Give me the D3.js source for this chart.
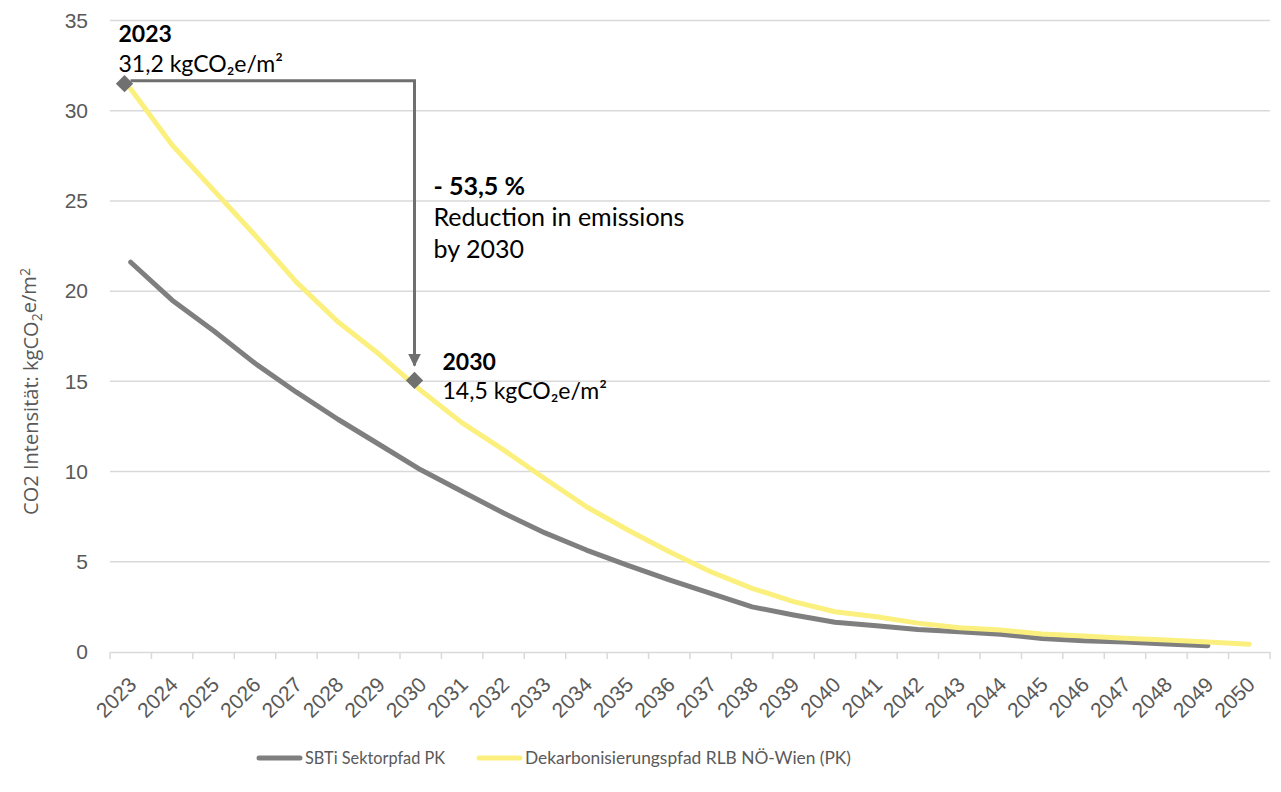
<!DOCTYPE html>
<html><head><meta charset="utf-8">
<script src="https://cdn.jsdelivr.net/npm/d3@7"></script>
<style>html,body{margin:0;padding:0;background:#fff;} svg{display:block}</style>
</head><body><svg id="chart" width="1281" height="792"></svg>
<script>
// ---------- data ----------
const years = ["2023","2024","2025","2026","2027","2028","2029","2030","2031","2032","2033","2034","2035","2036",
  "2037","2038","2039","2040","2041","2042","2043","2044","2045","2046","2047","2048","2049","2050"];
const sbtiValues = [21.6,19.5,17.8,16.0,14.4,12.9,11.5,10.1,8.9,7.7,6.6,5.65,4.8,4.0,
  3.25,2.5,2.05,1.65,1.45,1.25,1.12,0.98,0.75,0.62,0.55,0.45,0.35,null];
const rlbValues = [31.2,28.1,25.6,23.1,20.5,18.3,16.5,14.5,12.7,11.2,9.6,8.05,6.76,5.56,
  4.45,3.53,2.79,2.23,1.95,1.6,1.35,1.22,1.0,0.89,0.76,0.67,0.55,0.43];
const yTicks = [0,5,10,15,20,25,30,35];
const seriesNames = ["SBTi Sektorpfad PK","Dekarbonisierungspfad RLB NÖ-Wien (PK)"];
const markerYears = ["2023","2030"];
const markerValues = [31.5,15.05];
const markerTitles = ["2023","2030"];
const markerLabels = ["31,2 kgCO₂e/m²","14,5 kgCO₂e/m²"];
const reductionLines = ["- 53,5 %","Reduction in emissions","by 2030"];

// ---------- setup ----------
const svg = d3.select("#chart");
const W = 1281, H = 792;
const plot = {left:110, right:1270, top:20.5, bottom:652};
const colGray = "#7f7f7f", colYellow = "#fbf07e", colGrid = "#d9d9d9", colText = "#595959";
svg.append("rect").attr("width",W).attr("height",H).attr("fill","#fff");

const x = d3.scaleBand().domain(years).range([plot.left, plot.right]).padding(0);
const y = d3.scaleLinear().domain([0,35]).range([plot.bottom, plot.top]);
const bw = x.bandwidth();
const cx = d => x(d) + bw/2;

function fit(sel, target){
  const w = sel.node().getComputedTextLength();
  const fs = parseFloat(sel.attr("font-size"));
  sel.attr("font-size", (fs*target/w).toFixed(2));
  return sel;
}

// gridlines
svg.append("g").selectAll("line").data(yTicks.filter(t=>t>0)).join("line")
  .attr("x1",plot.left).attr("x2",plot.right)
  .attr("y1",d=>y(d)).attr("y2",d=>y(d))
  .attr("stroke",colGrid).attr("stroke-width",1.5);

// y axis labels
const yAxis = svg.append("g").attr("transform",`translate(${plot.left},0)`)
  .call(d3.axisLeft(y).tickValues(yTicks).tickSize(0).tickPadding(22));
yAxis.select(".domain").remove();
yAxis.selectAll("text").attr("font-family","Liberation Sans, Arial, sans-serif")
  .attr("font-size",21).attr("fill",colText);

// x axis
const xAxis = svg.append("g").attr("transform",`translate(0,${plot.bottom})`)
  .call(d3.axisBottom(x).tickSize(0).tickFormat(d=>d));
xAxis.select(".domain").attr("stroke",colGrid).attr("stroke-width",1.5);
xAxis.selectAll(".tick line").remove();
xAxis.selectAll(".tick text")
  .attr("font-family","Liberation Sans, Arial, sans-serif").attr("font-size",21).attr("fill",colText)
  .attr("text-anchor","end").attr("dy",0).attr("y",0)
  .attr("transform","translate(7,34) rotate(-45)");
// category separators (ticks between categories)
svg.append("g").selectAll("line").data(years.concat(["end"])).join("line")
  .attr("x1",(d,i)=> i<years.length ? x(d) : plot.right)
  .attr("x2",(d,i)=> i<years.length ? x(d) : plot.right)
  .attr("y1",plot.bottom).attr("y2",plot.bottom+7)
  .attr("stroke",colGrid).attr("stroke-width",1.5);

// y title
const yt = svg.append("text")
  .attr("transform",`translate(38,${(268+515)/2}) rotate(-90)`)
  .attr("text-anchor","middle").attr("font-family","'Open Sans', 'Liberation Sans', sans-serif")
  .attr("font-size",20).attr("fill",colText);
yt.append("tspan").text("CO2 Intensität: kgCO");
yt.append("tspan").attr("font-size","70%").attr("dy","0.3em").text("2");
yt.append("tspan").attr("dy","-0.3em").text("e/m");
yt.append("tspan").attr("font-size","70%").attr("dy","-0.45em").text("2");
fit(yt, 247);

// lines
const line = d3.line().defined(d=>d.v!=null).x(d=>cx(d.year)).y(d=>y(d.v));
const sbti = years.map((yr,i)=>({year:yr, v:sbtiValues[i]}));
const rlb = years.map((yr,i)=>({year:yr, v:rlbValues[i]}));
svg.append("path").datum(sbti).attr("d",line).attr("fill","none")
  .attr("stroke",colGray).attr("stroke-width",5).attr("stroke-linejoin","round").attr("stroke-linecap","round");
svg.append("path").datum(rlb).attr("d",line).attr("fill","none")
  .attr("stroke",colYellow).attr("stroke-width",5).attr("stroke-linejoin","round").attr("stroke-linecap","round");

// markers & arrow
const mk = markerYears.map((yr,i)=>({x: cx(yr) - 0.15*bw, y: y(markerValues[i])}));
const defs = svg.append("defs");
defs.append("marker").attr("id","arr").attr("viewBox","0 0 10 10").attr("refX",9).attr("refY",5)
  .attr("markerWidth",4.2).attr("markerHeight",4.6).attr("orient","auto").attr("markerUnits","strokeWidth")
  .append("path").attr("d","M0,0 L10,5 L0,10 Z").attr("fill","#6f6f6f");
svg.append("path")
  .attr("d",`M${mk[0].x+6},${mk[0].y-3} H${mk[1].x} V${mk[1].y-15}`)
  .attr("fill","none").attr("stroke","#6f6f6f").attr("stroke-width",3).attr("marker-end","url(#arr)");
svg.append("g").selectAll("path").data(mk).join("path")
  .attr("d",d3.symbol(d3.symbolSquare, 150)())
  .attr("transform",d=>`translate(${d.x},${d.y}) rotate(45)`).attr("fill","#707070");

// annotation texts
const annFont = "Lato, 'Open Sans', sans-serif";
const ann = svg.append("g").attr("font-family",annFont).attr("fill","#000");
const body = ann.append("text").attr("x",mk[1].x+19).attr("y",226).attr("font-size",20).text(reductionLines[1]);
fit(body,251);
const fsA = +body.attr("font-size");
ann.append("text").attr("x",mk[1].x+19).attr("y",195).attr("font-size",fsA).attr("font-weight","bold").text(reductionLines[0]);
ann.append("text").attr("x",mk[1].x+19).attr("y",258).attr("font-size",fsA).text(reductionLines[2]);
ann.append("text").attr("x",mk[0].x-6).attr("y",mk[0].y-42).attr("font-size",fsA*0.92).attr("font-weight","bold").text(markerTitles[0]);
ann.append("text").attr("x",mk[0].x-6).attr("y",mk[0].y-12).attr("font-size",fsA*0.92).text(markerLabels[0]);
ann.append("text").attr("x",mk[1].x+28).attr("y",mk[1].y-10).attr("font-size",fsA*0.92).attr("font-weight","bold").text(markerTitles[1]);
ann.append("text").attr("x",mk[1].x+28).attr("y",mk[1].y+19).attr("font-size",fsA*0.92).text(markerLabels[1]);

// legend
const lg = svg.append("g").attr("font-family",annFont).attr("fill",colText).attr("font-size",18);
const legY = 758;
lg.append("line").attr("x1",259).attr("x2",300).attr("y1",legY).attr("y2",legY)
  .attr("stroke",colGray).attr("stroke-width",5).attr("stroke-linecap","round");
lg.append("line").attr("x1",479).attr("x2",520).attr("y1",legY).attr("y2",legY)
  .attr("stroke",colYellow).attr("stroke-width",5).attr("stroke-linecap","round");
lg.append("text").attr("x",305).attr("y",legY).attr("dy","0.35em")
  .attr("textLength",140).attr("lengthAdjust","spacingAndGlyphs").text(seriesNames[0]);
lg.append("text").attr("x",525).attr("y",legY).attr("dy","0.35em")
  .attr("textLength",326).attr("lengthAdjust","spacingAndGlyphs").text(seriesNames[1]);
</script></body></html>
